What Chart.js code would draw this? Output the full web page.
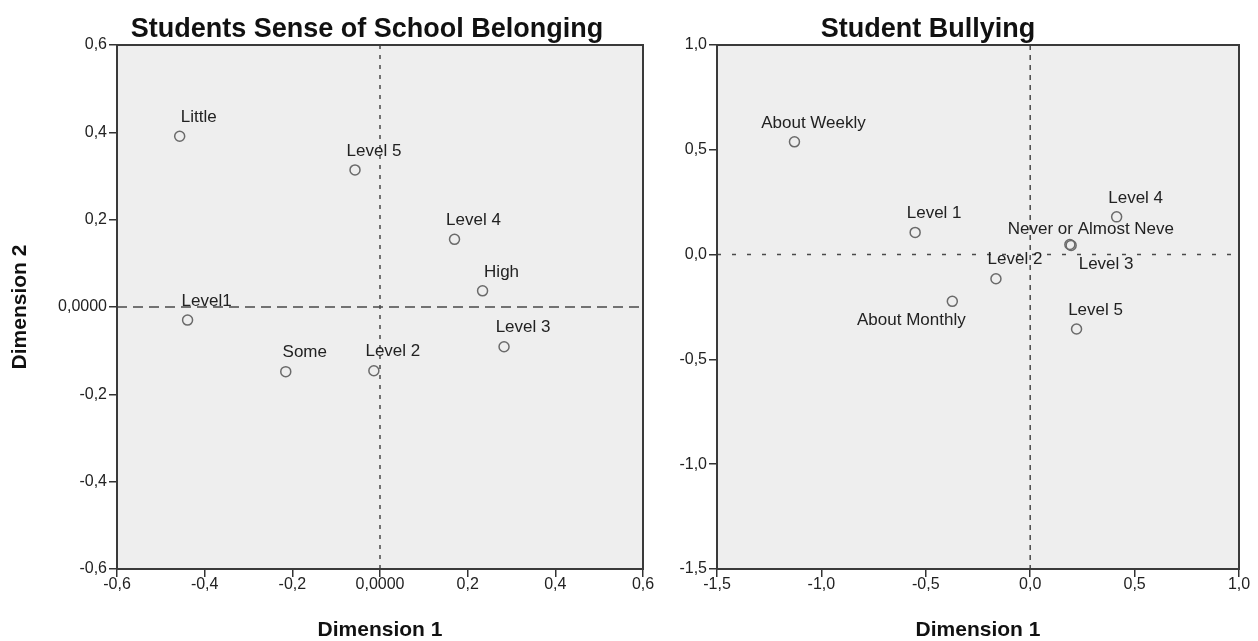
<!DOCTYPE html>
<html>
<head>
<meta charset="utf-8">
<script src="https://cdn.jsdelivr.net/npm/chart.js@4.4.1/dist/chart.umd.min.js"></script>
<style>
  body { margin: 0; background: #fff; width: 1258px; height: 641px; overflow: hidden; position: relative; }
  canvas { position: absolute; top: 0; }
  #belonging { left: 0; }
  #bullying { left: 640px; }
</style>
</head>
<body>
<canvas id="belonging" width="670" height="641"></canvas>
<canvas id="bullying" width="618" height="641"></canvas>
<script>
// Students Sense of School Belonging
var belongLabels = ['Little', 'Level 5', 'Level 4', 'High', 'Level1', 'Some', 'Level 2', 'Level 3']
var belongDim1   = [-0.457, -0.057, 0.170, 0.234, -0.439, -0.215, -0.014, 0.283]
var belongDim2   = [0.391, 0.314, 0.155, 0.037, -0.030, -0.148, -0.146, -0.091]
var belongTickValues = [-0.6, -0.4, -0.2, 0, 0.2, 0.4, 0.6]
var belongTickText   = ['-0,6', '-0,4', '-0,2', '0,0000', '0,2', '0,4', '0,6']

// Student Bullying
var bullyLabels = ['About Weekly', 'Level 1', 'Never or Almost Neve', 'Level 4', 'Level 2', 'Level 3', 'About Monthly', 'Level 5']
var bullyDim1   = [-1.129, -0.551, 0.190, 0.414, -0.164, 0.196, -0.373, 0.222]
var bullyDim2   = [0.538, 0.106, 0.048, 0.180, -0.115, 0.044, -0.223, -0.355]
var bullyTickValues = [-1.5, -1.0, -0.5, 0, 0.5, 1.0]
var bullyTickText   = ['-1,5', '-1,0', '-0,5', '0,0', '0,5', '1,0']

var FONT = '"Liberation Sans", Arial, sans-serif'

// label nudges (pixels from the point), default is up-right of the point
var bullyNudge = {
  2: { dx: 21, dy: -15 },
  5: { dx: 35, dy: 19 },
  6: { dx: -41, dy: 19 }
}

// background, zero lines, frame, title and point labels
var panelPlugin = {
  id: 'panel',
  beforeDraw: function(chart) {
    var a = chart.chartArea, ctx = chart.ctx
    ctx.save()
    ctx.fillStyle = '#eeeeee'
    ctx.fillRect(a.left, a.top, a.right - a.left, a.bottom - a.top)
    ctx.restore()
  },
  beforeDatasetsDraw: function(chart, args, opts) {
    var a = chart.chartArea, ctx = chart.ctx
    var x0 = chart.scales.x.getPixelForValue(0)
    var y0 = chart.scales.y.getPixelForValue(0)
    ctx.save()
    ctx.strokeStyle = '#4a4a4a'
    ctx.lineWidth = 1.5
    ctx.setLineDash(opts.hDash)
    ctx.beginPath(); ctx.moveTo(a.left, y0); ctx.lineTo(a.right, y0); ctx.stroke()
    ctx.setLineDash(opts.vDash)
    ctx.beginPath(); ctx.moveTo(x0, a.top); ctx.lineTo(x0, a.bottom); ctx.stroke()
    ctx.restore()
  },
  afterDraw: function(chart, args, opts) {
    var a = chart.chartArea, ctx = chart.ctx
    ctx.save()
    // frame
    ctx.strokeStyle = '#3a3a3a'
    ctx.lineWidth = 2
    ctx.strokeRect(a.left, a.top, a.right - a.left, a.bottom - a.top)
    // title
    ctx.fillStyle = '#111'
    ctx.font = 'bold 27px ' + FONT
    ctx.textAlign = 'center'
    ctx.textBaseline = 'middle'
    ctx.fillText(opts.title, (a.left + a.right) / 2 + opts.titleShift, 30)
    // point labels
    ctx.font = '17px ' + FONT
    ctx.fillStyle = '#222'
    var pts = chart.getDatasetMeta(0).data
    for (var i = 0; i < pts.length; i++) {
      var n = (opts.nudge && opts.nudge[i]) || { dx: 19, dy: -19 }
      ctx.fillText(opts.labels[i], pts[i].x + n.dx, pts[i].y + n.dy)
    }
    ctx.restore()
  }
}

function points(xs, ys) {
  var out = []
  for (var i = 0; i < xs.length; i++) out.push({ x: xs[i], y: ys[i] })
  return out
}

function axis(values, text, yWidth, titleText, isY) {
  var cfg = {
    type: 'linear',
    min: values[0],
    max: values[values.length - 1],
    afterBuildTicks: function(s) { s.ticks = values.map(function(v) { return { value: v } }) },
    ticks: {
      callback: function(v, i) { return text[i] },
      font: { family: FONT, size: 16, lineHeight: 1 },
      color: '#222',
      padding: isY ? 2 : 0,
      maxRotation: 0,
      autoSkip: false
    },
    grid: { drawOnChartArea: false, drawTicks: true, tickLength: 8, color: '#333', lineWidth: 1.5 },
    border: { display: true, color: '#333', width: 2 },
    title: {
      display: !!titleText,
      text: titleText,
      color: '#111',
      font: { family: FONT, size: 21, weight: 'bold', lineHeight: 1 },
      padding: isY ? { top: 9.5, bottom: 0 } : { top: 27, bottom: 0 }
    }
  }
  if (isY) cfg.afterFit = function(s) { s.width = yWidth }
  return cfg
}

function makeChart(id, labels, xs, ys, vals, text, yWidth, yTitle, padRight, pluginOpts) {
  pluginOpts.labels = labels
  return new Chart(document.getElementById(id), {
    type: 'scatter',
    data: {
      datasets: [{
        data: points(xs, ys),
        pointStyle: 'circle',
        pointRadius: 5,
        pointBorderWidth: 1.5,
        borderColor: '#6a6a6a',
        backgroundColor: 'rgba(0,0,0,0)'
      }]
    },
    options: {
      responsive: false,
      animation: false,
      layout: { padding: { top: 45, left: 0, right: padRight, bottom: 0 } },
      plugins: {
        legend: { display: false },
        tooltip: { enabled: false },
        panel: pluginOpts
      },
      scales: {
        x: axis(vals, text, 0, 'Dimension 1', false),
        y: axis(vals, text, yWidth, yTitle, true)
      }
    },
    plugins: [panelPlugin]
  })
}

makeChart('belonging', belongLabels, belongDim1, belongDim2, belongTickValues, belongTickText, 117, 'Dimension 2', 27,
  { title: 'Students Sense of School Belonging', titleShift: -13, hDash: [10, 6], vDash: [4, 6] })

makeChart('bullying', bullyLabels, bullyDim1, bullyDim2, bullyTickValues, bullyTickText, 77, '', 19,
  { title: 'Student Bullying', titleShift: -50, hDash: [4, 11], vDash: [5, 5], nudge: bullyNudge })
</script>
</body>
</html>
